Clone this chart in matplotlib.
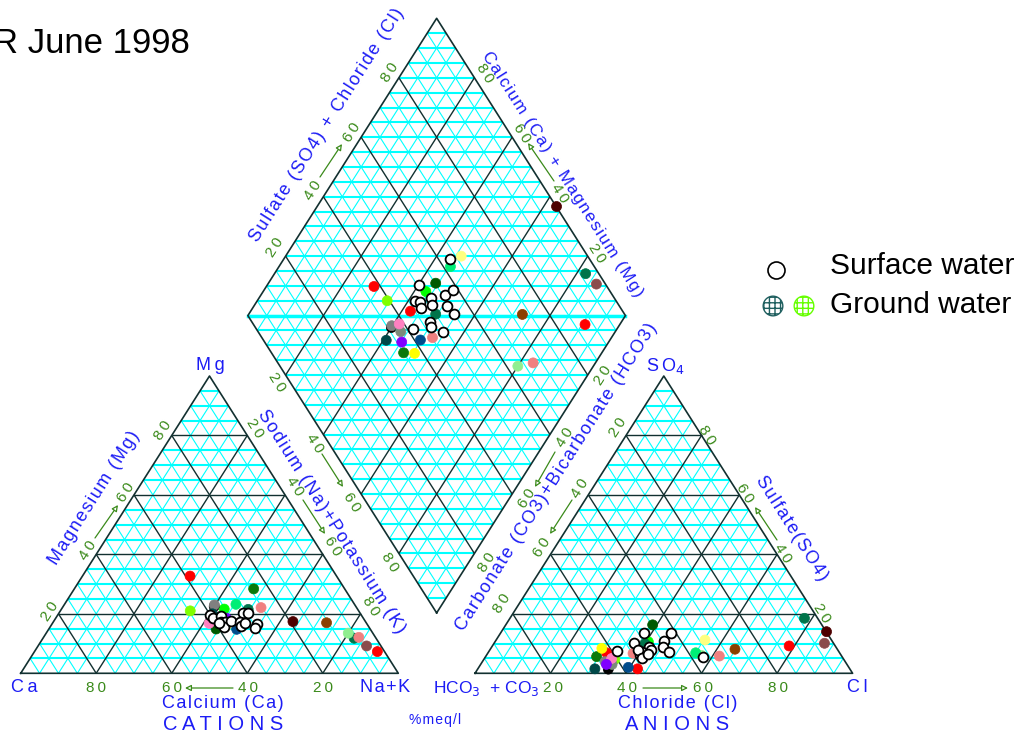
import numpy as np
import matplotlib.pyplot as plt
from matplotlib.collections import LineCollection

plt.rcParams['font.family'] = ['Liberation Sans', 'DejaVu Sans']

# surface water samples: cations Mg, Na+K (%), anions SO4, Cl (%)
surf_mg = [19.6, 18.5, 19.3, 17.4, 17.4, 15.7, 17.6, 20.2, 17.4, 20.2, 16.0, 16.8, 16.6, 15.1, 17.0]
surf_nak = [40.3, 41.8, 43.3, 44.4, 45.4, 45.9, 46.9, 48.7, 49.4, 50.1, 50.3, 51.0, 54.4, 54.5, 44.0]
surf_so4 = [9.0, 6.0, 7.3, 10.1, 13.5, 7.6, 8.0, 10.9, 7.8, 13.5, 5.0, 9.0, 7.1, 6.5, 5.6]
surf_cl = [41.5, 40.7, 40.6, 37.0, 37.9, 33.8, 42.5, 44.7, 39.3, 45.2, 41.6, 45.3, 47.7, 42.5, 57.5]

# ground water samples
gw_col = ['#4d0000', '#8b4c4c', '#00744a', '#ff0000', '#ff0000', '#ff0000', '#80ff00',
          '#90ee90', '#f08080', '#f08080', '#8b4000', '#005a00', '#0b7a0b', '#ffff00',
          '#ffff80', '#00ee76', '#00ff00', '#000000', '#808080', '#7b8b7b', '#ff80c0',
          '#004848', '#8000ff', '#004c8c', '#00744a']
gw_mg = [17.4, 9.2, 11.8, 7.3, 32.7, 18.0, 21.0, 13.5, 12.1, 22.1, 17.0, 14.9, 28.4, 15.7,
         16.0, 23.2, 21.6, 22.5, 23.0, 19.0, 16.8, 20.0, 18.5, 14.8, 21.5]
gw_nak = [63.4, 87.0, 82.4, 90.8, 28.5, 42.3, 34.4, 80.0, 83.5, 52.6, 72.5, 44.3, 47.5, 50.5,
          46.5, 45.4, 43.1, 40.0, 39.8, 43.2, 41.5, 40.8, 45.2, 49.8, 49.5]
gw_so4 = [14.0, 10.1, 18.5, 9.2, 6.9, 1.5, 4.7, 6.0, 5.8, 6.7, 8.1, 16.3, 5.6, 8.4,
          11.2, 6.9, 10.6, 1.4, 3.9, 3.0, 5.0, 1.5, 3.0, 2.0, 10.0]
gw_cl = [86.1, 87.5, 78.0, 78.6, 31.4, 42.3, 34.7, 57.0, 61.8, 38.5, 64.8, 38.9, 29.4, 29.4,
         55.3, 55.0, 40.6, 34.6, 32.5, 34.8, 33.7, 31.0, 33.3, 39.6, 40.0]

# layout (pixels)
W, H = 377.6, 297.3
CAT0 = (20.7, 673.3)
AN0 = (475.0, 673.3)
DB = ((CAT0[0] + W + AN0[0]) / 2, 673.3 - H * ((AN0[0] - CAT0[0] - W) / W))
ANG = np.degrees(np.arctan2(H, W / 2))

CYAN = '#00ffff'
DARK = '#123030'
BLUE = '#1c1cf5'
GREEN = '#3a8a1a'


def tri_xy(org, right, top):
    right = np.asarray(right) / 100.0
    top = np.asarray(top) / 100.0
    return org[0] + W * (right + top / 2), org[1] - H * top


def dia_xy(nak, so4cl):
    a = np.asarray(nak) / 100.0
    b = np.asarray(so4cl) / 100.0
    x = DB[0] - (1 - a) * W / 2 + b * W / 2
    y = DB[1] - (1 - a) * H - b * H
    return x, y


fig = plt.figure(figsize=(10.36, 7.4), dpi=100)
ax = fig.add_axes([0, 0, 1, 1])
ax.set_xlim(0, 1036)
ax.set_ylim(740, 0)
ax.axis('off')


def draw_triangle(org):
    minor_h, minor_d, major = [], [], []
    for k in range(1, 20):
        t = k * 5
        h = [tri_xy(org, 0, t), tri_xy(org, 100 - t, t)]
        r = [tri_xy(org, t, 0), tri_xy(org, t, 100 - t)]
        l = [tri_xy(org, 100 - t, 0), tri_xy(org, 0, 100 - t)]
        if k % 4 == 0:
            major += [h, r, l]
        else:
            minor_h.append(h)
            minor_d += [r, l]
    ax.add_collection(LineCollection(minor_d, colors=CYAN, lw=0.8, zorder=1))
    ax.add_collection(LineCollection(minor_h, colors=CYAN, lw=1.5, zorder=1))
    ax.add_collection(LineCollection(major, colors=DARK, lw=1.0, zorder=2))
    ox, oy = zip(tri_xy(org, 0, 0), tri_xy(org, 100, 0), tri_xy(org, 0, 100), tri_xy(org, 0, 0))
    ax.plot(ox, oy, color=DARK, lw=1.2, zorder=3)


def draw_diamond():
    minor, major, horiz = [], [], []
    for k in range(1, 20):
        t = k * 5
        a = [dia_xy(t, 0), dia_xy(t, 100)]
        b = [dia_xy(0, t), dia_xy(100, t)]
        (major if k % 4 == 0 else minor).extend([a, b])
    for k in range(1, 40):
        h = k / 20.0
        half = W / 2 * (h if h <= 1 else 2 - h)
        y = DB[1] - H * h
        horiz.append([(DB[0] - half, y), (DB[0] + half, y)])
    ax.add_collection(LineCollection(minor, colors=CYAN, lw=0.8, zorder=1))
    ax.add_collection(LineCollection(horiz, colors=CYAN, lw=1.5, zorder=1))
    ax.plot([DB[0] - W / 2, DB[0] + W / 2], [DB[1] - H] * 2, color=CYAN, lw=2.5, zorder=1)
    ax.add_collection(LineCollection(major, colors=DARK, lw=1.0, zorder=2))
    ox, oy = zip(dia_xy(100, 0), dia_xy(0, 0), dia_xy(0, 100), dia_xy(100, 100), dia_xy(100, 0))
    ax.plot(ox, oy, color=DARK, lw=1.2, zorder=3)


draw_triangle(CAT0)
draw_triangle(AN0)
draw_diamond()

# points
gw_cx, gw_cy = tri_xy(CAT0, gw_nak, gw_mg)
gw_ax, gw_ay = tri_xy(AN0, gw_cl, gw_so4)
gw_dx, gw_dy = dia_xy(gw_nak, np.add(gw_so4, gw_cl))
sf_cx, sf_cy = tri_xy(CAT0, surf_nak, surf_mg)
sf_ax, sf_ay = tri_xy(AN0, surf_cl, surf_so4)
sf_dx, sf_dy = dia_xy(surf_nak, np.add(surf_so4, surf_cl))

for xs, ys in [(gw_cx, gw_cy), (gw_ax, gw_ay), (gw_dx, gw_dy)]:
    ax.scatter(xs, ys, s=52, c=gw_col, edgecolors=gw_col, linewidths=0.5, zorder=5)
for xs, ys in [(sf_cx, sf_cy), (sf_ax, sf_ay), (sf_dx, sf_dy)]:
    ax.scatter(xs, ys, s=50, facecolors='white', edgecolors='black', linewidths=1.3, zorder=6)


def sp(s, gap='\u200a'):
    return gap.join(s)


def txt(x, y, s, rot=0, color=BLUE, size=13, **kw):
    ax.text(x, y, s, rotation=rot, color=color, fontsize=size, ha='center', va='center',
            rotation_mode='anchor', **kw)


def num(x, y, v, rot=0):
    txt(x, y, sp(str(v), '\u2009'), rot=rot, color=GREEN, size=11)


def arrow(x0, y0, x1, y1):
    ax.annotate('', xy=(x1, y1), xytext=(x0, y0),
                arrowprops=dict(arrowstyle='-|>', ec=GREEN, fc='white', lw=0.9,
                                mutation_scale=9, shrinkA=0, shrinkB=0))


# cation triangle labels
for v, x in zip([80, 60, 40, 20], [96, 172, 248, 323]):
    num(x, 688, v)
arrow(233, 688, 185, 688)
txt(223, 703, sp('Calcium (Ca)'), size=13)
txt(223, 725, 'C A T I O N S', size=14.5)
txt(24, 688, sp('Ca', '\u2009'), size=13)
txt(385, 688, sp('Na+K'), size=13)
txt(210, 365, sp('Mg', '\u2009'), size=13)
for v, (x, y) in zip([20, 40, 60, 80], [(50, 611), (88, 550), (126, 492), (163, 430)]):
    num(x, y, v, ANG)
arrow(95, 538, 118, 505)
txt(94, 498, sp('Magnesium (Mg)'), rot=ANG, size=13)
for v, (x, y) in zip([20, 40, 60, 80], [(255, 428), (295, 486), (333, 546), (371, 606)]):
    num(x, y, v, -ANG)
arrow(303, 500, 325, 534)
txt(331, 522, sp('Sodium (Na)+Potassium (K)'), rot=-ANG, size=13)

# diamond labels
for v, (x, y) in zip([20, 40, 60, 80], [(277, 382), (315, 443), (352, 502), (390, 562)]):
    num(x, y, v, -ANG)
arrow(322, 454, 343, 487)
for v, (x, y) in zip([20, 40, 60, 80], [(275, 247), (313, 190), (352, 132), (390, 72)]):
    num(x, y, v, ANG)
arrow(320, 177, 342, 144)
txt(327, 125, sp('Sulfate (SO4) + Chloride (Cl)'), rot=ANG, size=13)
for v, (x, y) in zip([80, 60, 40, 20], [(485, 73), (522, 133), (560, 193), (597, 253)]):
    num(x, y, v, -ANG)
arrow(554, 181, 528, 143)
txt(562, 174, sp('Calcium (Ca) + Magnesium (Mg)'), rot=-ANG, size=12.3)
for v, (x, y) in zip([80, 60, 40, 20], [(487, 562), (527, 498), (565, 437), (603, 375)]):
    num(x, y, v, ANG)
arrow(555, 452, 535, 487)

# anion triangle labels
for v, (x, y) in zip([80, 60, 40, 20], [(502, 603), (542, 547), (580, 488), (618, 427)]):
    num(x, y, v, ANG)
arrow(572, 500, 550, 534)
txt(557, 477, sp('Carbonate (CO3)+Bicarbonate (HCO3)'), rot=ANG, size=13)
for v, (x, y) in zip([80, 60, 40, 20], [(707, 435), (745, 493), (783, 553), (822, 613)]):
    num(x, y, v, -ANG)
arrow(777, 540, 755, 507)
txt(792, 528, sp('Sulfate(SO4)'), rot=-ANG, size=13)
for v, x in zip([20, 40, 60, 80], [553, 627, 703, 778]):
    num(x, 688, v)
arrow(643, 688, 688, 688)
txt(678, 703, sp('Chloride (Cl)'), size=13)
txt(677, 725, 'A N I O N S', size=14.5)
txt(857, 688, sp('Cl', '\u2009'), size=13)
txt(666, 366, 'S\u2009O$_4$', size=13)
txt(486, 689, 'HCO$_3$  + CO$_3$', size=12.5)
txt(435, 720, sp('%meq/l'), size=10)

# legend
ax.scatter([776], [270], s=150, facecolors='white', edgecolors='black', linewidths=1.2, zorder=6)
ax.scatter([773], [306], s=200, facecolors='white', edgecolors='#1f5f5f', hatch='+++',
           linewidths=1.0, zorder=6)
ax.scatter([804], [306], s=200, facecolors='white', edgecolors='#66ff00', hatch='+++',
           linewidths=1.0, zorder=6)
ax.text(830, 266, 'Surface water', fontsize=21.5, color='black', va='center', ha='left')
ax.text(830, 305, 'Ground water', fontsize=21.5, color='black', va='center', ha='left')

ax.text(190, 53, 'R June 1998', fontsize=25, color='black', ha='right', va='baseline')

fig.savefig('out.png', dpi=100)
